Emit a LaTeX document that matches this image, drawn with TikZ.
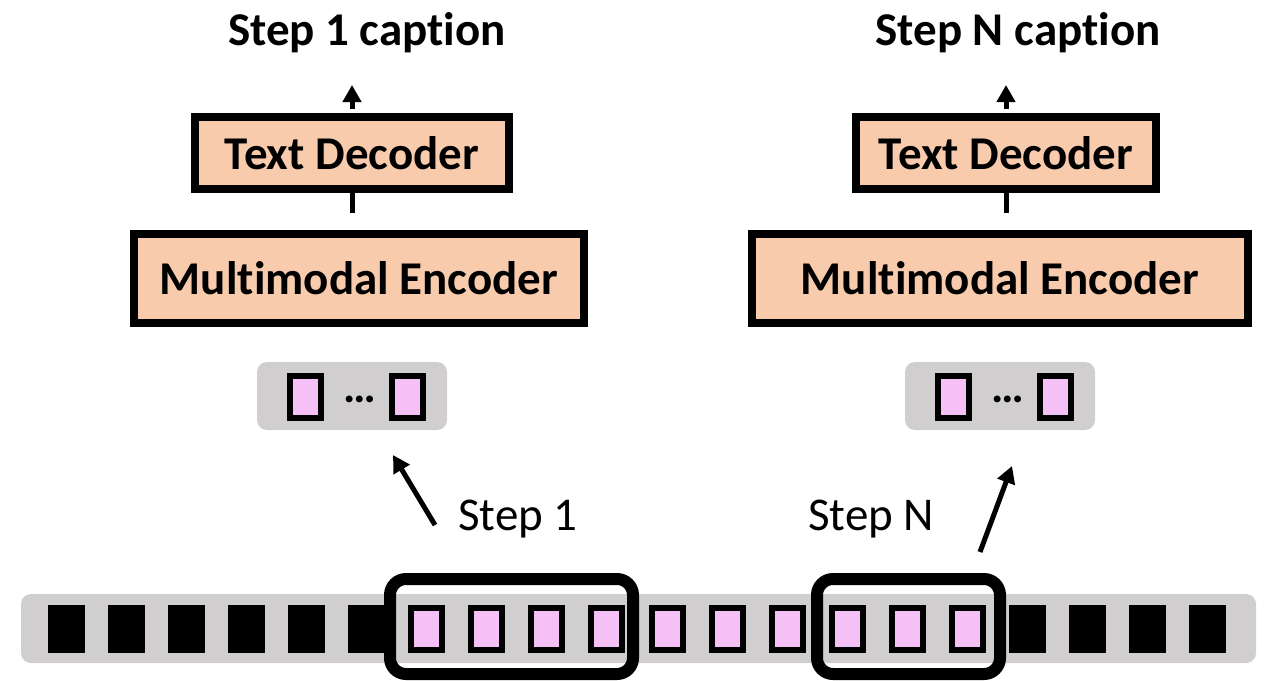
\documentclass[tikz,border=0pt]{standalone}
\usepackage{fontspec}
\setmainfont{Carlito}[Ligatures=NoCommon]
\usetikzlibrary{arrows.meta}
\definecolor{blockfill}{HTML}{F8CBAD}
\definecolor{tokpink}{HTML}{F5C0F6}
\definecolor{traygray}{HTML}{D0CECE}
\tikzset{
  big/.style={font=\fontsize{47}{52}\selectfont},
  bigbold/.style={font=\bfseries\fontsize{47}{52}\selectfont},
  block/.style={draw=black, line width=8pt, fill=blockfill, inner sep=0pt, bigbold},
  tray/.style={fill=traygray, rounded corners=10pt, inner sep=0pt},
  blacktok/.style={fill=black, minimum width=37pt, minimum height=48pt, inner sep=0pt},
  pinktok/.style={draw=black, line width=6pt, fill=tokpink, minimum width=31pt,
    minimum height=42pt, inner sep=0pt},
  dots/.style={anchor=base, inner sep=0pt, font=\bfseries\fontsize{46}{50}\selectfont},
  window/.style={draw=black, line width=12pt, rounded corners=16pt, inner sep=0pt},
  arr/.style={line width=5pt, -{Triangle[width=18pt,length=17pt]}},
  stub/.style={line width=5pt},
}
\begin{document}
\begin{tikzpicture}[x=1pt, y=-1pt]
\useasboundingbox (0,0) rectangle (1268,680);

% input token strip
\node[tray, minimum width=1235pt, minimum height=69pt] (strip) at (638.5,628.5) {};
\foreach \i in {0,...,19}{
  \pgfmathsetmacro{\xx}{66+60.1*\i}
  \ifnum\i<6
    \node[blacktok] (t\i) at (\xx,629) {};
  \else\ifnum\i>15
    \node[blacktok] (t\i) at (\xx,629) {};
  \else
    \node[pinktok] (t\i) at (\xx,629) {};
  \fi\fi
}

% sliding windows
\node[window, minimum width=243pt, minimum height=95pt] (win1) at (511.5,626.5) {};
\node[window, minimum width=183pt, minimum height=95pt] (winN) at (908.5,626.5) {};

% step labels
\node[big, anchor=base west, inner sep=0pt] (lab1) at (458,530) {Step 1};
\node[big, anchor=base west, inner sep=0pt] (labN) at (808,530) {Step N};

% selected tokens
\node[tray, minimum width=190pt, minimum height=68pt] (tray1) at (352,396) {};
\node[pinktok] (s1a) at (305.5,397) {};
\node[pinktok] (s1b) at (407.5,397) {};
\node[dots] (d1) at (360,402) {…};

\node[tray, minimum width=190pt, minimum height=68pt] (trayN) at (1000,396) {};
\node[pinktok] (sNa) at (953.5,397) {};
\node[pinktok] (sNb) at (1055.5,397) {};
\node[dots] (dN) at (1008,402) {…};

% arrows from windows to selections
\coordinate (a1s) at (435,525);
\coordinate (a1e) at (393,455);
\coordinate (aNs) at (980,552);
\coordinate (aNe) at (1012,466);
\draw[arr] (a1s) -- (a1e);
\draw[arr] (aNs) -- (aNe);

% encoders and decoders
\node[block, minimum width=450pt, minimum height=89pt] (enc1) at (359,278.5) {Multimodal Encoder};
\node[block, minimum width=496pt, minimum height=89pt] (encN) at (1000,278.5) {Multimodal Encoder};
\node[block, minimum width=314pt, minimum height=72pt] (dec1) at (352,153) {Text Decoder};
\node[block, minimum width=300pt, minimum height=72pt] (decN) at (1006,153) {Text Decoder};

\draw[stub] (dec1.south) -- ([yshift=17pt]dec1.south |- enc1.north);
\draw[stub] (decN.south) -- ([yshift=17pt]decN.south |- encN.north);

% captions
\node[bigbold, anchor=base, inner sep=0pt] (cap1) at (367,45) {Step 1 caption};
\node[bigbold, anchor=base, inner sep=0pt] (capN) at (1018,45) {Step N caption};
\coordinate (tip1) at (351,85);
\coordinate (tipN) at (1004,85);
\draw[arr] ([yshift=4pt]dec1.north) -- (dec1.north |- tip1);
\draw[arr] ([yshift=4pt]decN.north) -- (decN.north |- tipN);
\end{tikzpicture}
\end{document}
